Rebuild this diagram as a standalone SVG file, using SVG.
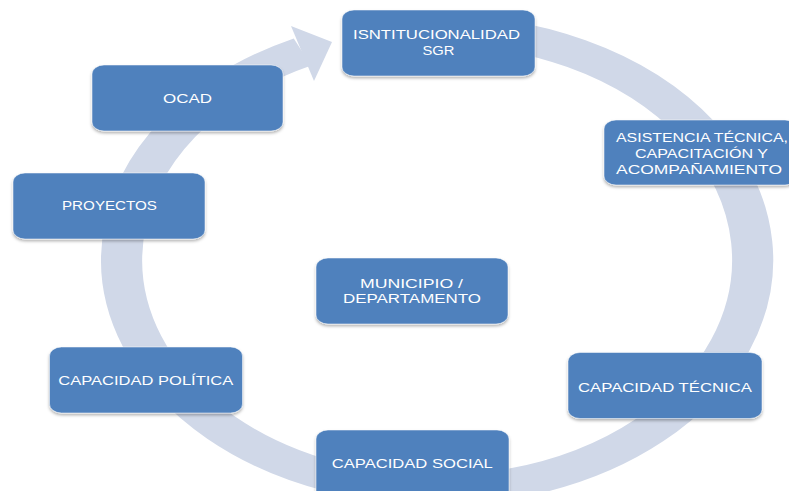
<svg xmlns="http://www.w3.org/2000/svg" width="789" height="491" viewBox="0 0 789 491">
<defs>
<filter id="sh" x="-10%" y="-10%" width="120%" height="130%">
<feDropShadow dx="0" dy="2" stdDeviation="1.5" flood-color="#000" flood-opacity="0.3"/>
</filter>
</defs>
<style>
.box{fill:#4f81bd;stroke:#ffffff;stroke-opacity:0.5;stroke-width:1;filter:url(#sh)}
.t{font-family:"Liberation Sans",Arial,sans-serif;font-size:12.5px;fill:#ffffff;text-anchor:middle}
.ring{fill:none;stroke:#d0d8e8;stroke-width:30;stroke-linecap:butt}
</style>
<rect width="789" height="491" fill="#ffffff"/>
<g id="connectors">
<path class="ring" transform="translate(437.5,260) scale(1.3717,1)" d="M 0 -230 A 230 230 0 1 1 -98.4 -208"/>
<polygon points="291,26 332,42 314,81" fill="#d0d8e8"/>
</g>
<g id="institucionalidad">
<rect class="box" x="342" y="10" width="193" height="66" rx="12" ry="9"/>
<text class="t" x="436.5" y="39" textLength="167" lengthAdjust="spacingAndGlyphs">ISNTITUCIONALIDAD</text>
<text class="t" x="438.5" y="55" textLength="32" lengthAdjust="spacingAndGlyphs">SGR</text>
</g>
<g id="asistencia">
<rect class="box" x="604" y="120" width="193" height="65" rx="12" ry="9"/>
<text class="t" x="702" y="142" textLength="172" lengthAdjust="spacingAndGlyphs">ASISTENCIA TÉCNICA,</text>
<text class="t" x="701.5" y="158" textLength="133" lengthAdjust="spacingAndGlyphs">CAPACITACIÓN Y</text>
<text class="t" x="699" y="174" textLength="166" lengthAdjust="spacingAndGlyphs">ACOMPAÑAMIENTO</text>
</g>
<g id="ocad">
<rect class="box" x="92" y="65" width="191" height="66" rx="12" ry="9"/>
<text class="t" x="187.5" y="103" textLength="49" lengthAdjust="spacingAndGlyphs">OCAD</text>
</g>
<g id="proyectos">
<rect class="box" x="13" y="173" width="192" height="66" rx="12" ry="9"/>
<text class="t" x="109.5" y="210" textLength="95" lengthAdjust="spacingAndGlyphs">PROYECTOS</text>
</g>
<g id="municipio">
<rect class="box" x="316" y="258" width="192" height="66" rx="12" ry="9"/>
<text class="t" x="411.5" y="288" textLength="103" lengthAdjust="spacingAndGlyphs">MUNICIPIO /</text>
<text class="t" x="412" y="302.5" textLength="138" lengthAdjust="spacingAndGlyphs">DEPARTAMENTO</text>
</g>
<g id="politica">
<rect class="box" x="49.5" y="347" width="193" height="66" rx="12" ry="9"/>
<text class="t" x="145.8" y="385" textLength="175" lengthAdjust="spacingAndGlyphs">CAPACIDAD POLÍTICA</text>
</g>
<g id="tecnica">
<rect class="box" x="568" y="352.5" width="194" height="66" rx="12" ry="9"/>
<text class="t" x="665" y="392" textLength="174" lengthAdjust="spacingAndGlyphs">CAPACIDAD TÉCNICA</text>
</g>
<g id="social">
<rect class="box" x="316" y="430" width="193" height="70" rx="12" ry="9"/>
<text class="t" x="412.3" y="468" textLength="161" lengthAdjust="spacingAndGlyphs">CAPACIDAD SOCIAL</text>
</g>
</svg>
